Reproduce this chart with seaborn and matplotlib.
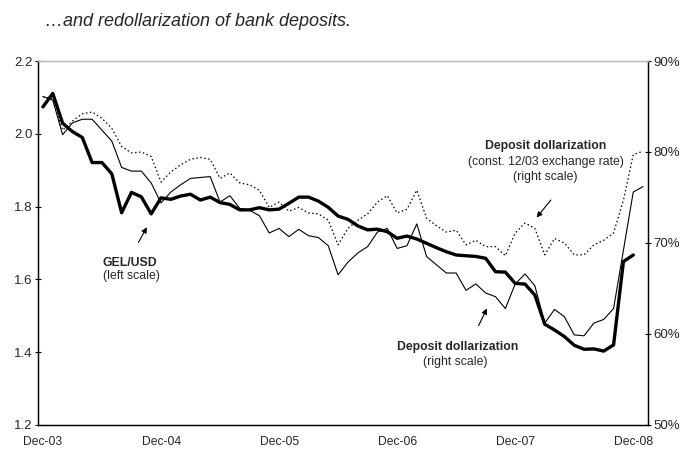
import numpy as np
import pandas as pd
import matplotlib
matplotlib.use("Agg")
import matplotlib.pyplot as plt
import matplotlib.transforms as mtransforms
import seaborn as sns

# Datos mensuales Dec-03 .. Jan-09
gel_usd = [2.074, 2.111, 2.029, 2.006, 1.990, 1.921, 1.921, 1.890, 1.783, 1.839,
           1.827, 1.780, 1.824, 1.820, 1.829, 1.834, 1.818, 1.826, 1.811, 1.806,
           1.791, 1.791, 1.797, 1.791, 1.793, 1.809, 1.826, 1.826, 1.815, 1.798,
           1.774, 1.765, 1.747, 1.736, 1.738, 1.731, 1.713, 1.719, 1.711, 1.699,
           1.687, 1.676, 1.667, 1.665, 1.663, 1.658, 1.621, 1.620, 1.589, 1.587,
           1.557, 1.477, 1.461, 1.443, 1.419, 1.408, 1.409, 1.403, 1.420, 1.649,
           1.667]

dep_dollar = [86.1, 85.7, 81.9, 83.2, 83.6, 83.6, 82.4, 81.2, 78.3, 77.9,
              77.9, 76.6, 74.4, 75.6, 76.4, 77.1, 77.2, 77.3, 74.5, 75.2,
              73.8, 73.6, 73.0, 71.1, 71.6, 70.7, 71.5, 70.8, 70.6, 69.7,
              66.5, 67.9, 68.9, 69.6, 71.2, 71.6, 69.4, 69.7, 72.1, 68.5,
              67.6, 66.7, 66.7, 64.8, 65.5, 64.5, 64.1, 62.8, 65.5, 66.6,
              65.3, 61.2, 62.7, 61.9, 59.9, 59.8, 61.2, 61.6, 62.8, 69.2,
              75.6, 76.2]

dep_dollar_const = [86.1, 85.8, 82.4, 83.4, 84.2, 84.4, 83.7, 82.6, 80.6, 79.9,
                    80.0, 79.5, 76.7, 77.8, 78.6, 79.2, 79.4, 79.2, 77.1, 77.7,
                    76.6, 76.4, 75.8, 73.9, 74.5, 73.5, 73.9, 73.3, 73.2, 72.5,
                    69.8, 71.6, 72.5, 73.2, 74.5, 75.2, 73.3, 73.7, 75.8, 72.7,
                    71.9, 71.2, 71.4, 69.8, 70.3, 69.6, 69.6, 68.6, 71.1, 72.2,
                    71.6, 68.7, 70.5, 70.0, 68.7, 68.7, 69.8, 70.3, 71.1, 74.7,
                    79.7, 80.1]

year_labels = ["Dec-03", "Dec-04", "Dec-05", "Dec-06", "Dec-07", "Dec-08"]
left_ticks = [1.2, 1.4, 1.6, 1.8, 2.0, 2.2]
right_ticks = [50, 60, 70, 80, 90]

sns.set_style("white")
plt.rcParams['font.family'] = ['Liberation Sans', 'DejaVu Sans']

# posiciones en el centro de cada mes
gel_df = pd.DataFrame({"x": np.arange(len(gel_usd)) + 0.5, "v": gel_usd})
dep_df = pd.DataFrame({"x": np.arange(len(dep_dollar)) + 0.5,
                       "v": dep_dollar, "c": dep_dollar_const})

fig = plt.figure(figsize=(6.95, 4.58), dpi=100)
ax = fig.add_axes([0.0547, 0.0721, 0.8777, 0.7947])
ax2 = ax.twinx()

sns.lineplot(data=dep_df, x="x", y="v", ax=ax2, color="black", linewidth=0.8)
sns.lineplot(data=dep_df, x="x", y="c", ax=ax2, color="black", linewidth=0.9,
             linestyle=(0, (1.2, 2.0)))
sns.lineplot(data=gel_df, x="x", y="v", ax=ax, color="black", linewidth=2.4)
ax.set_zorder(ax2.get_zorder() + 1)
ax.patch.set_visible(False)

ax.set_xlim(0, 62)
ax.set_ylim(1.2, 2.2)
ax2.set_ylim(50, 90)

ax.set_xticks(np.arange(0, 61, 12))
ax.set_xticklabels(year_labels)
ax.set_xticks(np.arange(6, 61, 12), minor=True)
ax.set_yticks(left_ticks)
ax.set_yticklabels([f"{t:.1f}" for t in left_ticks])
ax2.set_yticks(right_ticks)
ax2.set_yticklabels([f"{t}%" for t in right_ticks])

for a in (ax, ax2):
    a.set_xlabel("")
    a.set_ylabel("")
    a.tick_params(length=4, width=0.8, color="black", direction="inout", pad=2)
    a.tick_params(which="minor", length=4, width=0.8, color="black", direction="inout")
    for s in ["left", "right", "bottom"]:
        a.spines[s].set_color("black")
        a.spines[s].set_linewidth(0.9)
    a.spines["top"].set_color("#bdbdbd")
    a.spines["top"].set_linewidth(1.0)

ax.tick_params(axis="x", labelsize=8.7, pad=6)
ax.tick_params(axis="y", labelsize=9.5)
ax2.tick_params(axis="y", labelsize=9.5)

# etiquetas del eje x un poco corridas a la derecha, como en Excel
shift = mtransforms.ScaledTranslation(5 / 100, 0, fig.dpi_scale_trans)
for lbl in ax.get_xticklabels():
    lbl.set_transform(lbl.get_transform() + shift)

# Textos y flechas
bold = dict(fontsize=8.8, fontweight="bold", ha="center", va="center")
norm = dict(fontsize=8.8, ha="center", va="center")
arrow = dict(arrowstyle="-|>", color="black", lw=0.8, mutation_scale=8)

ax.text(9.3, 1.645, "GEL/USD", **bold)
ax.text(9.5, 1.609, "(left scale)", **norm)
ax.annotate("", xy=(11.2, 1.750), xytext=(10.07, 1.695), arrowprops=arrow)

ax.text(51.6, 1.9665, "Deposit dollarization", **bold)
ax.text(51.6, 1.9225, "(const. 12/03 exchange rate)", **norm)
ax.text(51.6, 1.881, "(right scale)", **norm)
ax.annotate("", xy=(50.5, 1.764), xytext=(52.3, 1.824), arrowprops=arrow)

ax.text(42.6, 1.4143, "Deposit dollarization", **bold)
ax.text(42.4, 1.373, "(right scale)", **norm)
ax.annotate("", xy=(45.75, 1.527), xytext=(44.66, 1.466), arrowprops=arrow)

fig.text(0.065, 0.954, "\u2026and redollarization of bank deposits.", fontsize=13,
         fontstyle="italic", ha="left", va="center")

fig.savefig("out.png", dpi=100)
